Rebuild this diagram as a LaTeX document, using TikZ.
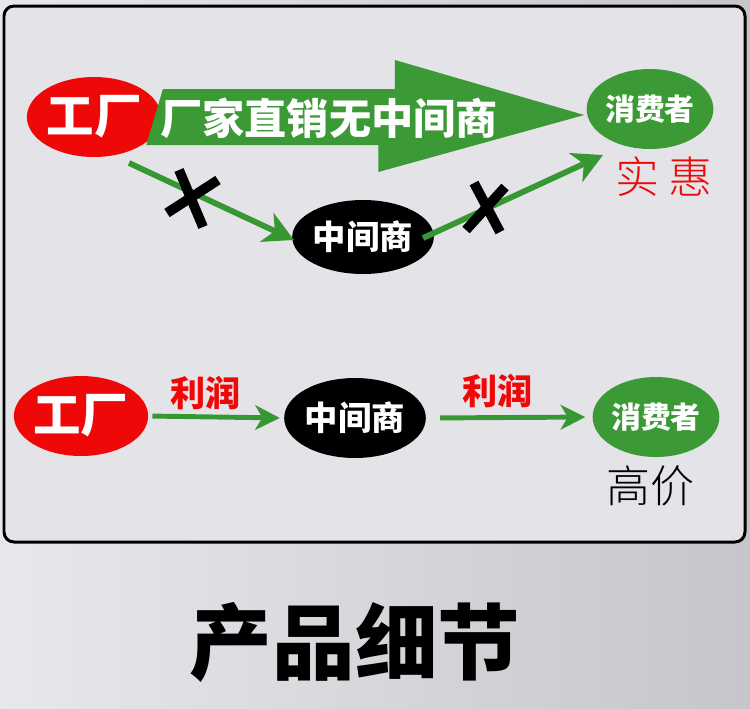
\documentclass[tikz,border=0pt]{standalone}
\usepackage{fontspec}
\usepackage{tikz}
\usetikzlibrary{arrows.meta,positioning,shapes.geometric}
\newfontfamily\cjk{Noto Sans CJK SC}
\newfontfamily\cjkblack{Noto Sans CJK SC Black}
\newfontfamily\cjklight{Noto Sans CJK SC Light}
\definecolor{mkred}{HTML}{EE0808}
\definecolor{mkgreen}{HTML}{3C9A36}
\definecolor{mkarrow}{HTML}{379833}
\definecolor{mkpanel}{HTML}{E4E4E8}
\definecolor{mkbgleft}{HTML}{E8E8EC}
\definecolor{mkbgright}{HTML}{C6C6CA}

\begin{document}
\begin{tikzpicture}[x=0.02cm, y=-0.02cm,
  party/.style={ellipse, inner sep=0pt, minimum width=2.3cm, minimum height=1.6cm,
                text=white, font=\cjk\bfseries\fontsize{19}{20}\selectfont},
  factory/.style={party, fill=mkred, font=\cjk\bfseries\fontsize{27}{28}\selectfont},
  middleman/.style={party, fill=black},
  consumer/.style={party, fill=mkgreen, font=\cjk\bfseries\fontsize{17}{18}\selectfont},
  flow/.style={draw=mkarrow, line width=3.3pt, -{Stealth[length=17pt,width=18pt,inset=5pt]}},
  flowthin/.style={flow, line width=2.8pt, -{Stealth[length=14pt,width=14pt,inset=4pt]}},
  bigflow/.style={fill=mkgreen},
  cutmark/.style={draw=black, line width=5.6pt},
  profit/.style={text=mkred, font=\cjk\bfseries\fontsize{20}{21}\selectfont},
  verdict/.style={font=\cjklight\fontsize{25}{27}\selectfont},
]
  \useasboundingbox (0,0) rectangle (750,708);
  \fill[left color=mkbgleft, right color=mkbgright] (0,0) rectangle (750,708);
  \draw[line width=1.7pt, rounded corners=0.2cm, fill=mkpanel] (4,6) rectangle (745,542);

  \node[factory] (factoryA) at (94,117) {工厂};
  \node[middleman, minimum height=1.48cm] (middleA) at (363,237) {中间商};
  \node[consumer] (consumerA) at (650,109) {消费者};
  \node[verdict, text=mkred] (cheapA) at (664,177) {实\hspace{0.2cm}惠};

  \fill[bigflow] ([shift={(1.5,-28)}]factoryA.east) -- ++(232,0) -- ++(0,-29)
    -- ([shift={(-2,6)}]consumerA.west) -- ++(-206,57) -- ++(0,-27) -- ++(-232,0) -- cycle;
  \node[text=white, font=\cjk\bfseries\fontsize{24}{26}\selectfont] (directA) at (329,118)
    {厂家直销无中间商};

  \draw[flow] ([shift={(35,46)}]factoryA.center) -- ([shift={(-69,3)}]middleA.center);
  \draw[flow] ([shift={(60,1)}]middleA.center) -- ([shift={(-47,46)}]consumerA.center);

  \coordinate (cutA) at (192,199);
  \coordinate (cutB) at (486,208);
  \draw[cutmark] ([shift={(-13,-29)}]cutA) -- ([shift={(11,28)}]cutA);
  \draw[cutmark] ([shift={(-25,14)}]cutA) -- ([shift={(26,-19)}]cutA);
  \draw[cutmark] ([shift={(-12,-25)}]cutB) -- ([shift={(14,24)}]cutB);
  \draw[cutmark] ([shift={(-20,22)}]cutB) -- ([shift={(19,-21)}]cutB);

  \node[factory] (factoryB) at (81,416) {工厂};
  \node[middleman] (middleB) at (355,418) {中间商};
  \node[consumer] (consumerB) at (656,417) {消费者};
  \node[verdict] (dearB) at (650,486) {高价};

  \draw[flowthin, shorten <=0.08cm, shorten >=0.08cm] (factoryB.east) -- node[profit, above=-1pt, pos=0.42] {利润} (middleB.west);
  \draw[flowthin, shorten <=0.28cm, shorten >=0.14cm] (middleB.east) -- node[profit, above=1pt, pos=0.43] {利润} (consumerB.west);

  \node[font=\cjkblack\fontsize{47}{50}\selectfont] (titleC) at (355,642) {产品细节};
\end{tikzpicture}
\end{document}
